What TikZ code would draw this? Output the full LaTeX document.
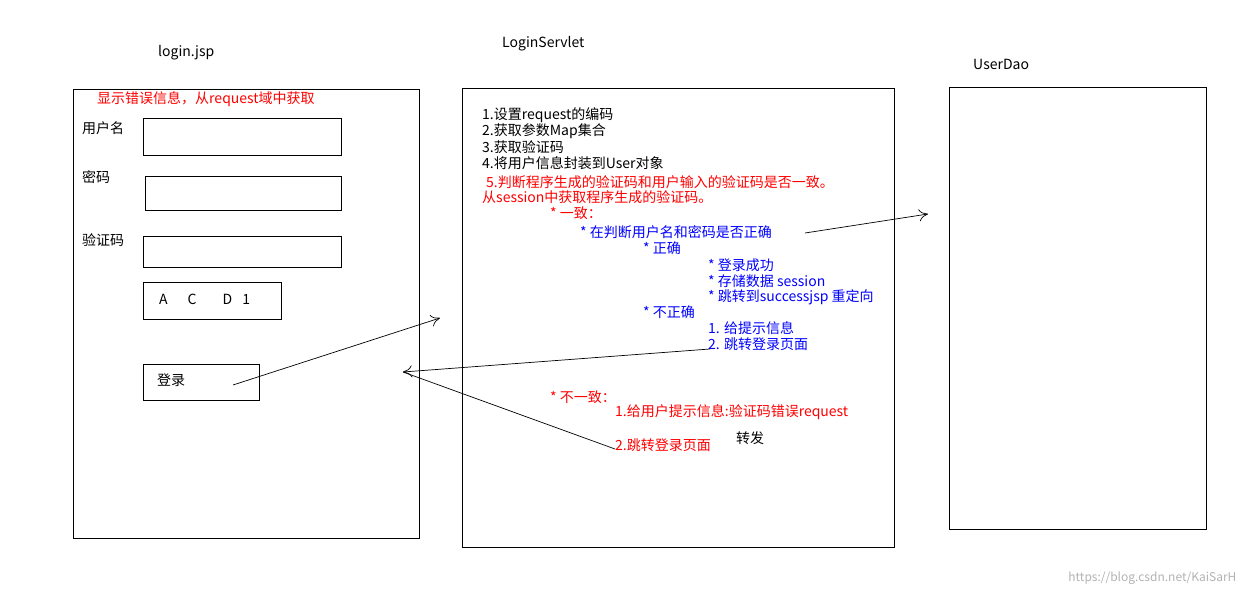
\documentclass[tikz,border=0pt]{standalone}
\usepackage{fontspec}
\setmainfont{Noto Sans CJK SC}
\usetikzlibrary{arrows.meta}
\begin{document}
\begin{tikzpicture}[x=1pt,y=-1pt,
  box/.style={draw,line width=0.8pt},
  t/.style={anchor=west,inner sep=0pt,font=\fontsize{14}{14}\selectfont},
  r/.style={t,text=red},
  b/.style={t,text=blue},
  arr/.style={line width=0.7pt,-{To[length=9pt,width=12pt]}}]
\useasboundingbox (0,0) rectangle (1246,596);
\node[t] (tl) at (158,53) {login.jsp};
\node[t] (ts) at (502,44) {LoginServlet};
\node[t] (tu) at (973,64) {UserDao};
\draw[box] (73,89) rectangle (419,538);
\draw[box] (462,88) rectangle (894,547);
\draw[box] (949,87) rectangle (1206,529);
\node[r] (err) at (97,99) {显示错误信息，从request域中获取};
\node[t] (un) at (82,128) {用户名};
\draw[box] (143,118) rectangle (341,155);
\node[t] (pw) at (82,177) {密码};
\draw[box] (145,176) rectangle (341,210);
\node[t] (vc) at (82,240) {验证码};
\draw[box] (143,236) rectangle (341,267);
\draw[box] (143,282) rectangle (281,319);
\node[t] (cap) at (159,299) {A\hspace{20pt}C\hspace{26pt}D\hspace{10pt}1};
\draw[box] (143,364) rectangle (259,400);
\node[t] (lg) at (157,380) {登录};
\node[t] (l1) at (482,115) {1.设置request的编码};
\node[t] (l2) at (482,131) {2.获取参数Map集合};
\node[t] (l3) at (482,147) {3.获取验证码};
\node[t] (l4) at (482,163) {4.将用户信息封装到User对象};
\node[r] (l5) at (486,182) {5.判断程序生成的验证码和用户输入的验证码是否一致。};
\node[r] (l6) at (482,197) {从session中获取程序生成的验证码。};
\node[r] (y) at (550,213) {* 一致：};
\node[b] (c) at (580,232) {* 在判断用户名和密码是否正确};
\node[b] (ok) at (643,248) {* 正确};
\node[b] (o1) at (708,265) {* 登录成功};
\node[b] (o2) at (708,281) {* 存储数据 session};
\node[b] (o3) at (708,297) {* 跳转到successjsp 重定向};
\node[b] (no) at (643,312) {* 不正确};
\node[b] (n1) at (708,328) {1. 给提示信息};
\node[b] (n2) at (708,344) {2. 跳转登录页面};
\node[r] (ny) at (550,397) {* 不一致：};
\node[r] (m1) at (615,412) {1.给用户提示信息:验证码错误request};
\node[r] (m2) at (615,445) {2.跳转登录页面};
\node[t] (zf) at (736,438) {转发};
\node[anchor=east,text=gray!60,font=\fontsize{12}{12}\selectfont] (wm) at (1240,578) {https://blog.csdn.net/KaiSarH};
\coordinate (a1) at (233,385);
\coordinate (a2) at (440,318);
\coordinate (b1) at (805,233);
\coordinate (b2) at (928,214);
\coordinate (c1) at (710,349);
\coordinate (c2) at (403,372);
\coordinate (d1) at (615,449);
\draw[arr] (a1) -- (a2);
\draw[arr] (b1) -- (b2);
\draw[arr] (c1) -- (c2);
\draw[line width=0.7pt] (d1) -- (c2);
\end{tikzpicture}
\end{document}
